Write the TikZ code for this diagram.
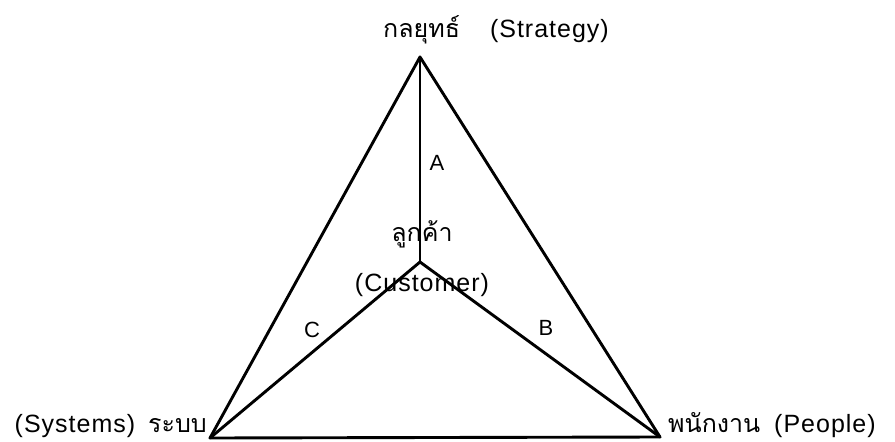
\documentclass[tikz,border=0pt]{standalone}
\usepackage{fontspec}
\setmainfont{Liberation Sans}[LetterSpace=4]
\newfontfamily\thai[Script=Thai]{Loma}
\begin{document}
\begin{tikzpicture}[x=1pt,y=-1pt,
  edge/.style={line width=2.9pt, line join=round, line cap=round},
  lbl/.style={font=\fontsize{25}{28}\selectfont, inner sep=0pt},
  letter/.style={font=\fontsize{22}{24}\selectfont, inner sep=0pt}]
\useasboundingbox (0,0) rectangle (895,442);
\coordinate (S) at (420,57);
\coordinate (Y) at (210,438);
\coordinate (P) at (660,437);
\coordinate (C) at (420,262);
\draw[edge] (S) -- (P) -- (Y) -- cycle;
\draw[edge] (C) -- (S);
\draw[edge] (C) -- (P);
\draw[edge] (C) -- (Y);
\node[lbl, anchor=base west] (st) at (383,37) {{\thai กลยุทธ์}\hspace{30pt}(Strategy)};
\node[lbl, anchor=base east] (sy) at (207,432) {(Systems)\hspace{13pt}{\thai ระบบ}};
\node[lbl, anchor=base west] (pe) at (668,432) {{\thai พนักงาน}\hspace{14pt}(People)};
\node[lbl, anchor=base] (cu1) at (422,241) {\thai ลูกค้า};
\node[lbl, anchor=base] (cu2) at (422,291) {(Customer)};
\node[letter] (a) at (437,163) {A};
\node[letter] (b) at (546,328) {B};
\node[letter] (c) at (312,330) {C};
\end{tikzpicture}
\end{document}
